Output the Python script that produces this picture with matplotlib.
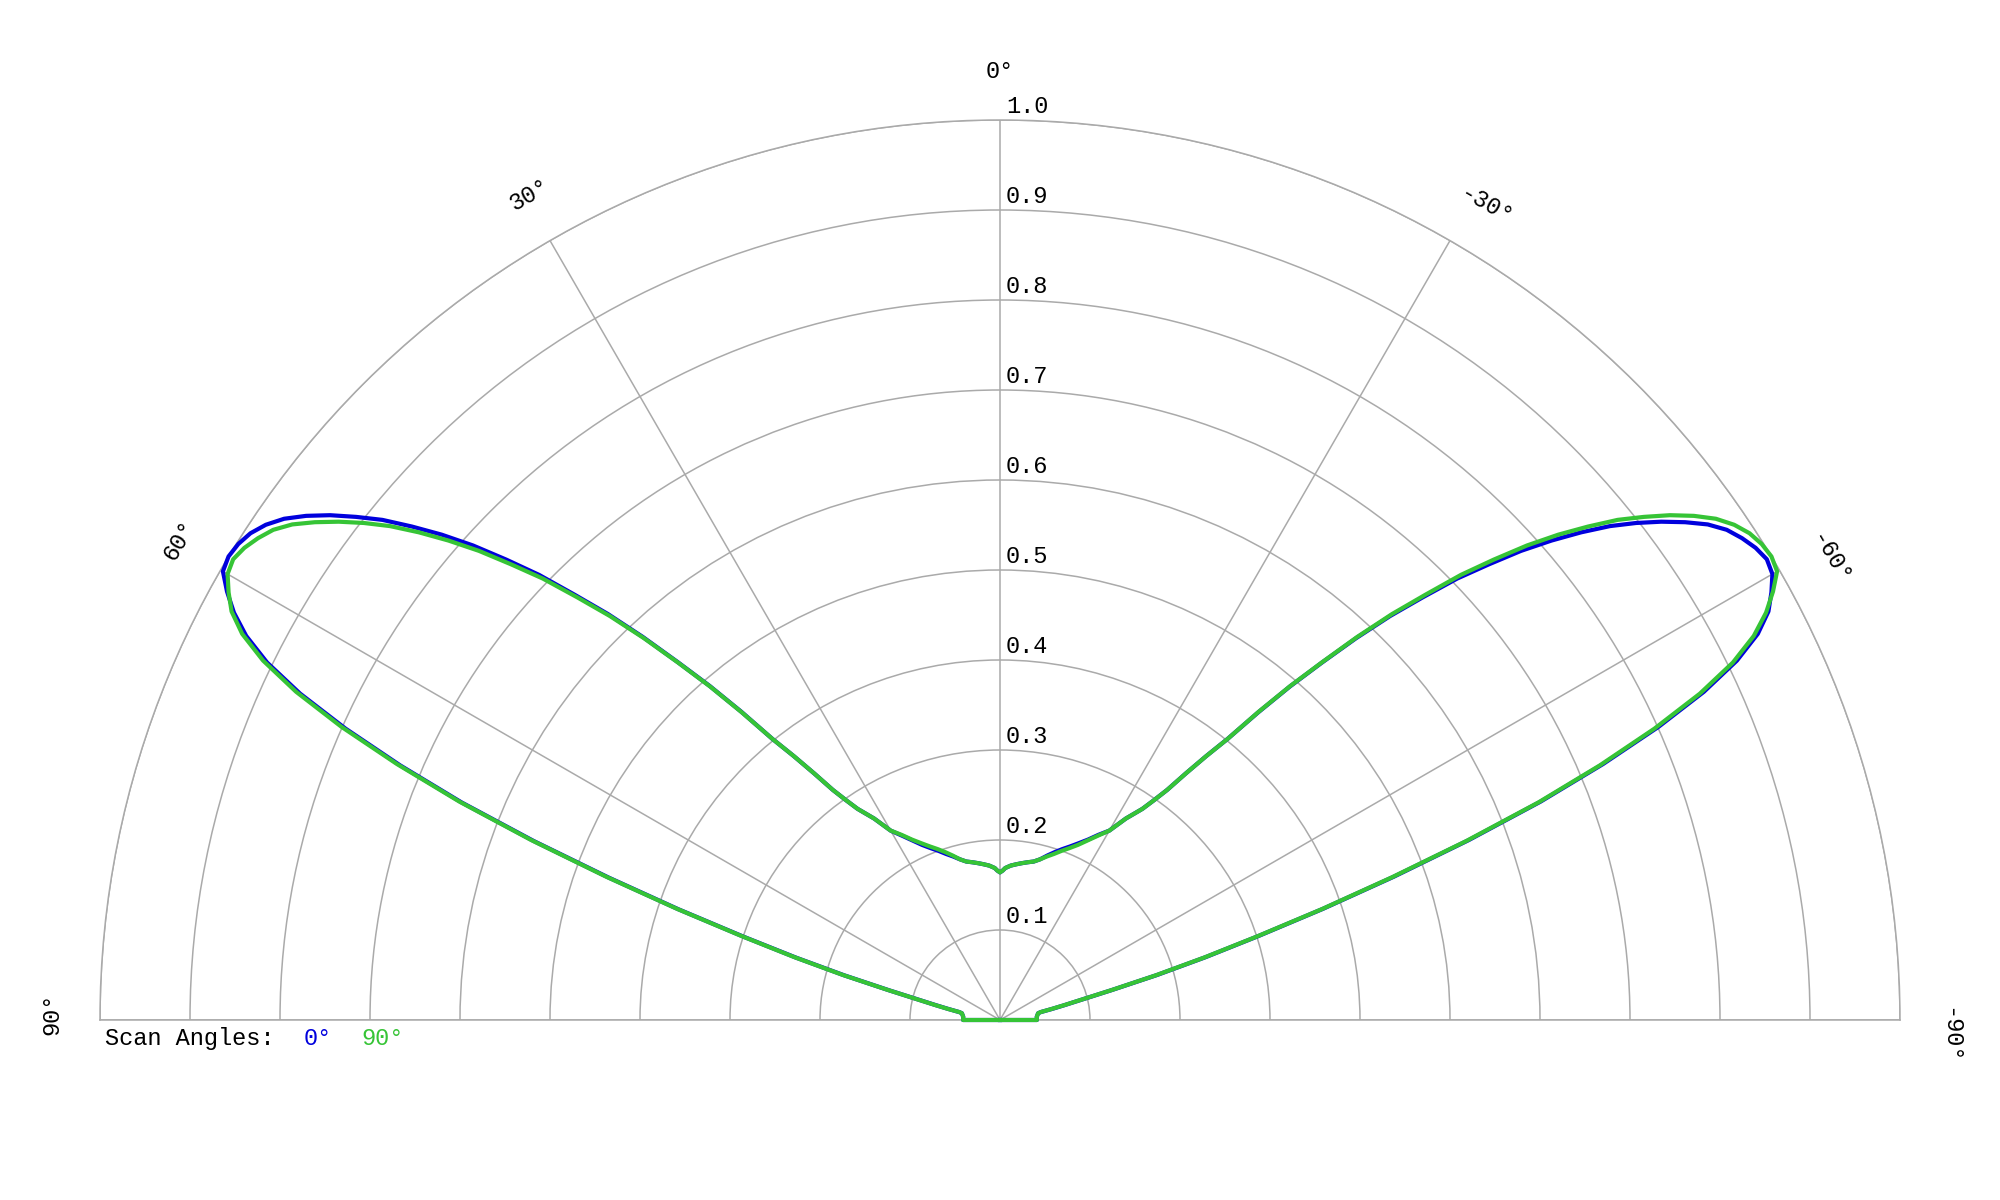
import numpy as np
import matplotlib
matplotlib.use("Agg")
import matplotlib.pyplot as plt
from matplotlib.transforms import offset_copy

# ---------------- data ----------------
# angles in degrees; positive angles are drawn on the left side
theta_deg = [
    -90, -85, -80, -79, -78, -77, -76, -75, -74, -73, -72, -71, -70, -69, -68,
    -67, -66, -65, -64, -63, -62, -61, -60, -59, -58, -57, -56, -55, -54, -53,
    -52, -51, -50, -49, -48, -47, -46, -45, -44, -43, -42, -41, -40, -39, -38,
    -37, -36, -35, -34, -32, -30, -28, -26, -24, -22, -20, -18, -16, -14, -12,
    -10, -8, -6, -4, -2, -1, 0,
    1, 2, 4, 6, 8, 10, 12, 14, 16, 18, 20, 22, 24, 26, 28, 30, 32, 34, 35,
    36, 37, 38, 39, 40, 41, 42, 43, 44, 45, 46, 47, 48, 49, 50, 51, 52, 53,
    54, 55, 56, 57, 58, 59, 60, 61, 62, 63, 64, 65, 66, 67, 68, 69, 70, 71,
    72, 73, 74, 75, 76, 77, 78, 79, 80, 85, 90,
]

# Scan angle 0 deg (blue)
r_scan0 = [
    0.041, 0.041, 0.043, 0.046, 0.059, 0.074, 0.094, 0.129, 0.182, 0.239, 0.302,
    0.380, 0.466, 0.558, 0.648, 0.728, 0.801, 0.863, 0.911, 0.945, 0.967, 0.980,
    0.991, 0.994, 0.990, 0.983, 0.974, 0.960, 0.941, 0.920, 0.897, 0.872, 0.843,
    0.812, 0.779, 0.742, 0.706, 0.664, 0.624, 0.580, 0.534, 0.491, 0.446, 0.402,
    0.372, 0.343, 0.316, 0.298, 0.283, 0.264, 0.243, 0.233, 0.223, 0.215, 0.208,
    0.202, 0.196, 0.190, 0.184, 0.180, 0.178, 0.176, 0.174, 0.172, 0.169, 0.166,
    0.164,
    0.166, 0.169, 0.172, 0.174, 0.176, 0.178, 0.180, 0.184, 0.189, 0.194, 0.200,
    0.206, 0.213, 0.222, 0.232, 0.243, 0.264, 0.283, 0.298, 0.316, 0.343, 0.372,
    0.402, 0.447, 0.492, 0.535, 0.582, 0.627, 0.668, 0.712, 0.750, 0.788, 0.822,
    0.853, 0.883, 0.908, 0.932, 0.953, 0.971, 0.984, 0.993, 0.998, 1.000, 0.997,
    0.982, 0.964, 0.940, 0.906, 0.858, 0.796, 0.724, 0.645, 0.555, 0.463, 0.378,
    0.300, 0.237, 0.180, 0.128, 0.093, 0.073, 0.058, 0.046, 0.043, 0.041, 0.041,
]

# Scan angle 90 deg (green)
r_scan90 = [
    0.041, 0.041, 0.043, 0.046, 0.058, 0.073, 0.093, 0.128, 0.180, 0.237, 0.300,
    0.378, 0.463, 0.555, 0.645, 0.724, 0.796, 0.858, 0.906, 0.940, 0.964, 0.982,
    0.997, 1.000, 0.998, 0.993, 0.984, 0.971, 0.953, 0.932, 0.908, 0.883, 0.853,
    0.822, 0.788, 0.750, 0.712, 0.668, 0.627, 0.582, 0.535, 0.492, 0.447, 0.402,
    0.372, 0.343, 0.316, 0.298, 0.283, 0.264, 0.243, 0.232, 0.222, 0.213, 0.206,
    0.200, 0.194, 0.189, 0.184, 0.180, 0.178, 0.176, 0.174, 0.172, 0.169, 0.166,
    0.164,
    0.166, 0.169, 0.172, 0.174, 0.176, 0.178, 0.180, 0.184, 0.190, 0.196, 0.202,
    0.208, 0.215, 0.223, 0.233, 0.243, 0.264, 0.283, 0.298, 0.316, 0.343, 0.372,
    0.402, 0.446, 0.491, 0.534, 0.580, 0.624, 0.664, 0.706, 0.742, 0.779, 0.812,
    0.843, 0.872, 0.897, 0.920, 0.941, 0.960, 0.974, 0.983, 0.990, 0.994, 0.991,
    0.980, 0.967, 0.945, 0.911, 0.863, 0.801, 0.728, 0.648, 0.558, 0.466, 0.380,
    0.302, 0.239, 0.182, 0.129, 0.094, 0.074, 0.059, 0.046, 0.043, 0.041, 0.041,
]

ring_values = [0.1, 0.2, 0.3, 0.4, 0.5, 0.6, 0.7, 0.8, 0.9, 1.0]
ring_labels = ["0.1", "0.2", "0.3", "0.4", "0.5", "0.6", "0.7", "0.8", "0.9", "1.0"]
spoke_angles = [-90, -60, -30, 0, 30, 60, 90]
spoke_labels = ["-90°", "-60°", "-30°", "0°", "30°", "60°", "90°"]
legend_title = "Scan Angles:"
series_labels = ["0°", "90°"]

# ---------------- style ----------------
FONT = ["Liberation Mono", "DejaVu Sans Mono"]
GRID = "#aaaaaa"
BLUE = "#0000dd"
GREEN = "#36c436"
FS = 17

W, H = 2000, 1200
CX, CY, R = 1000, 1020, 900   # pixel centre and radius of the half disc

fig = plt.figure(figsize=(20, 12), dpi=100)
fig.patch.set_facecolor("white")
# the polar wedge is fitted, centred, into a square box; build that square
box_left = (CX - R) / W
box_w = 2 * R / W
box_cy = CY - R / 2
box_bottom = (H - (box_cy + R)) / H
box_h = 2 * R / H
ax = fig.add_axes([box_left, box_bottom, box_w, box_h], projection="polar")
ax.set_theta_zero_location("N")
ax.set_theta_direction(1)
ax.set_thetamin(-90)
ax.set_thetamax(90)
ax.set_rlim(0, 1)
ax.set_rticks(ring_values)
ax.set_yticklabels([])
ax.set_xticks(np.deg2rad(spoke_angles))
ax.set_xticklabels([])
ax.tick_params(length=0)
ax.grid(True, color=GRID, linewidth=1.1)
ax.set_axisbelow(True)
for sp in ax.spines.values():
    sp.set_color(GRID)
    sp.set_linewidth(1.1)

th = np.deg2rad(np.concatenate([[-90.0], theta_deg, [90.0]]))
ax.plot(th, np.concatenate([[0.0], r_scan0, [0.0]]), color=BLUE, lw=3.0,
        solid_joinstyle="round", clip_on=False, zorder=3)
ax.plot(th, np.concatenate([[0.0], r_scan90, [0.0]]), color=GREEN, lw=3.0,
        solid_joinstyle="round", clip_on=False, zorder=4)

# radial value labels, just right of the 0° spoke and above each ring
trans = offset_copy(ax.transData, fig=fig, x=6, y=7, units="dots")
for v, lab in zip(ring_values, ring_labels):
    ax.text(0.0, v, lab, transform=trans, ha="left", va="baseline",
            fontsize=FS, family=FONT, color="black")

# angle labels around the rim
label_pos = {"-90°": (-90.9, 1.058, -90), "-60°": (-60.9, 1.058, -60),
             "-30°": (-30.8, 1.057, -30), "0°": (0.0, 1.057, 0),
             "30°": (29.7, 1.058, 30), "60°": (59.7, 1.059, 60),
             "90°": (89.6, 1.056, 90)}
for lab in spoke_labels:
    a, rr, rot = label_pos[lab]
    ax.text(np.deg2rad(a), rr, lab, ha="center", va="center_baseline",
            rotation=rot, rotation_mode="anchor", fontsize=FS, family=FONT,
            color="black", clip_on=False)

# legend line
y_leg = 1 - 1045 / H
fig.text(105 / W, y_leg, legend_title, ha="left", va="baseline",
         fontsize=FS, family=FONT, color="black")
fig.text(304 / W, y_leg, series_labels[0], ha="left", va="baseline",
         fontsize=FS, family=FONT, color=BLUE)
fig.text(361 / W, y_leg, series_labels[1], ha="left", va="baseline",
         fontsize=FS, family=FONT, color=GREEN)

fig.savefig("out.png", dpi=100, facecolor="white")
